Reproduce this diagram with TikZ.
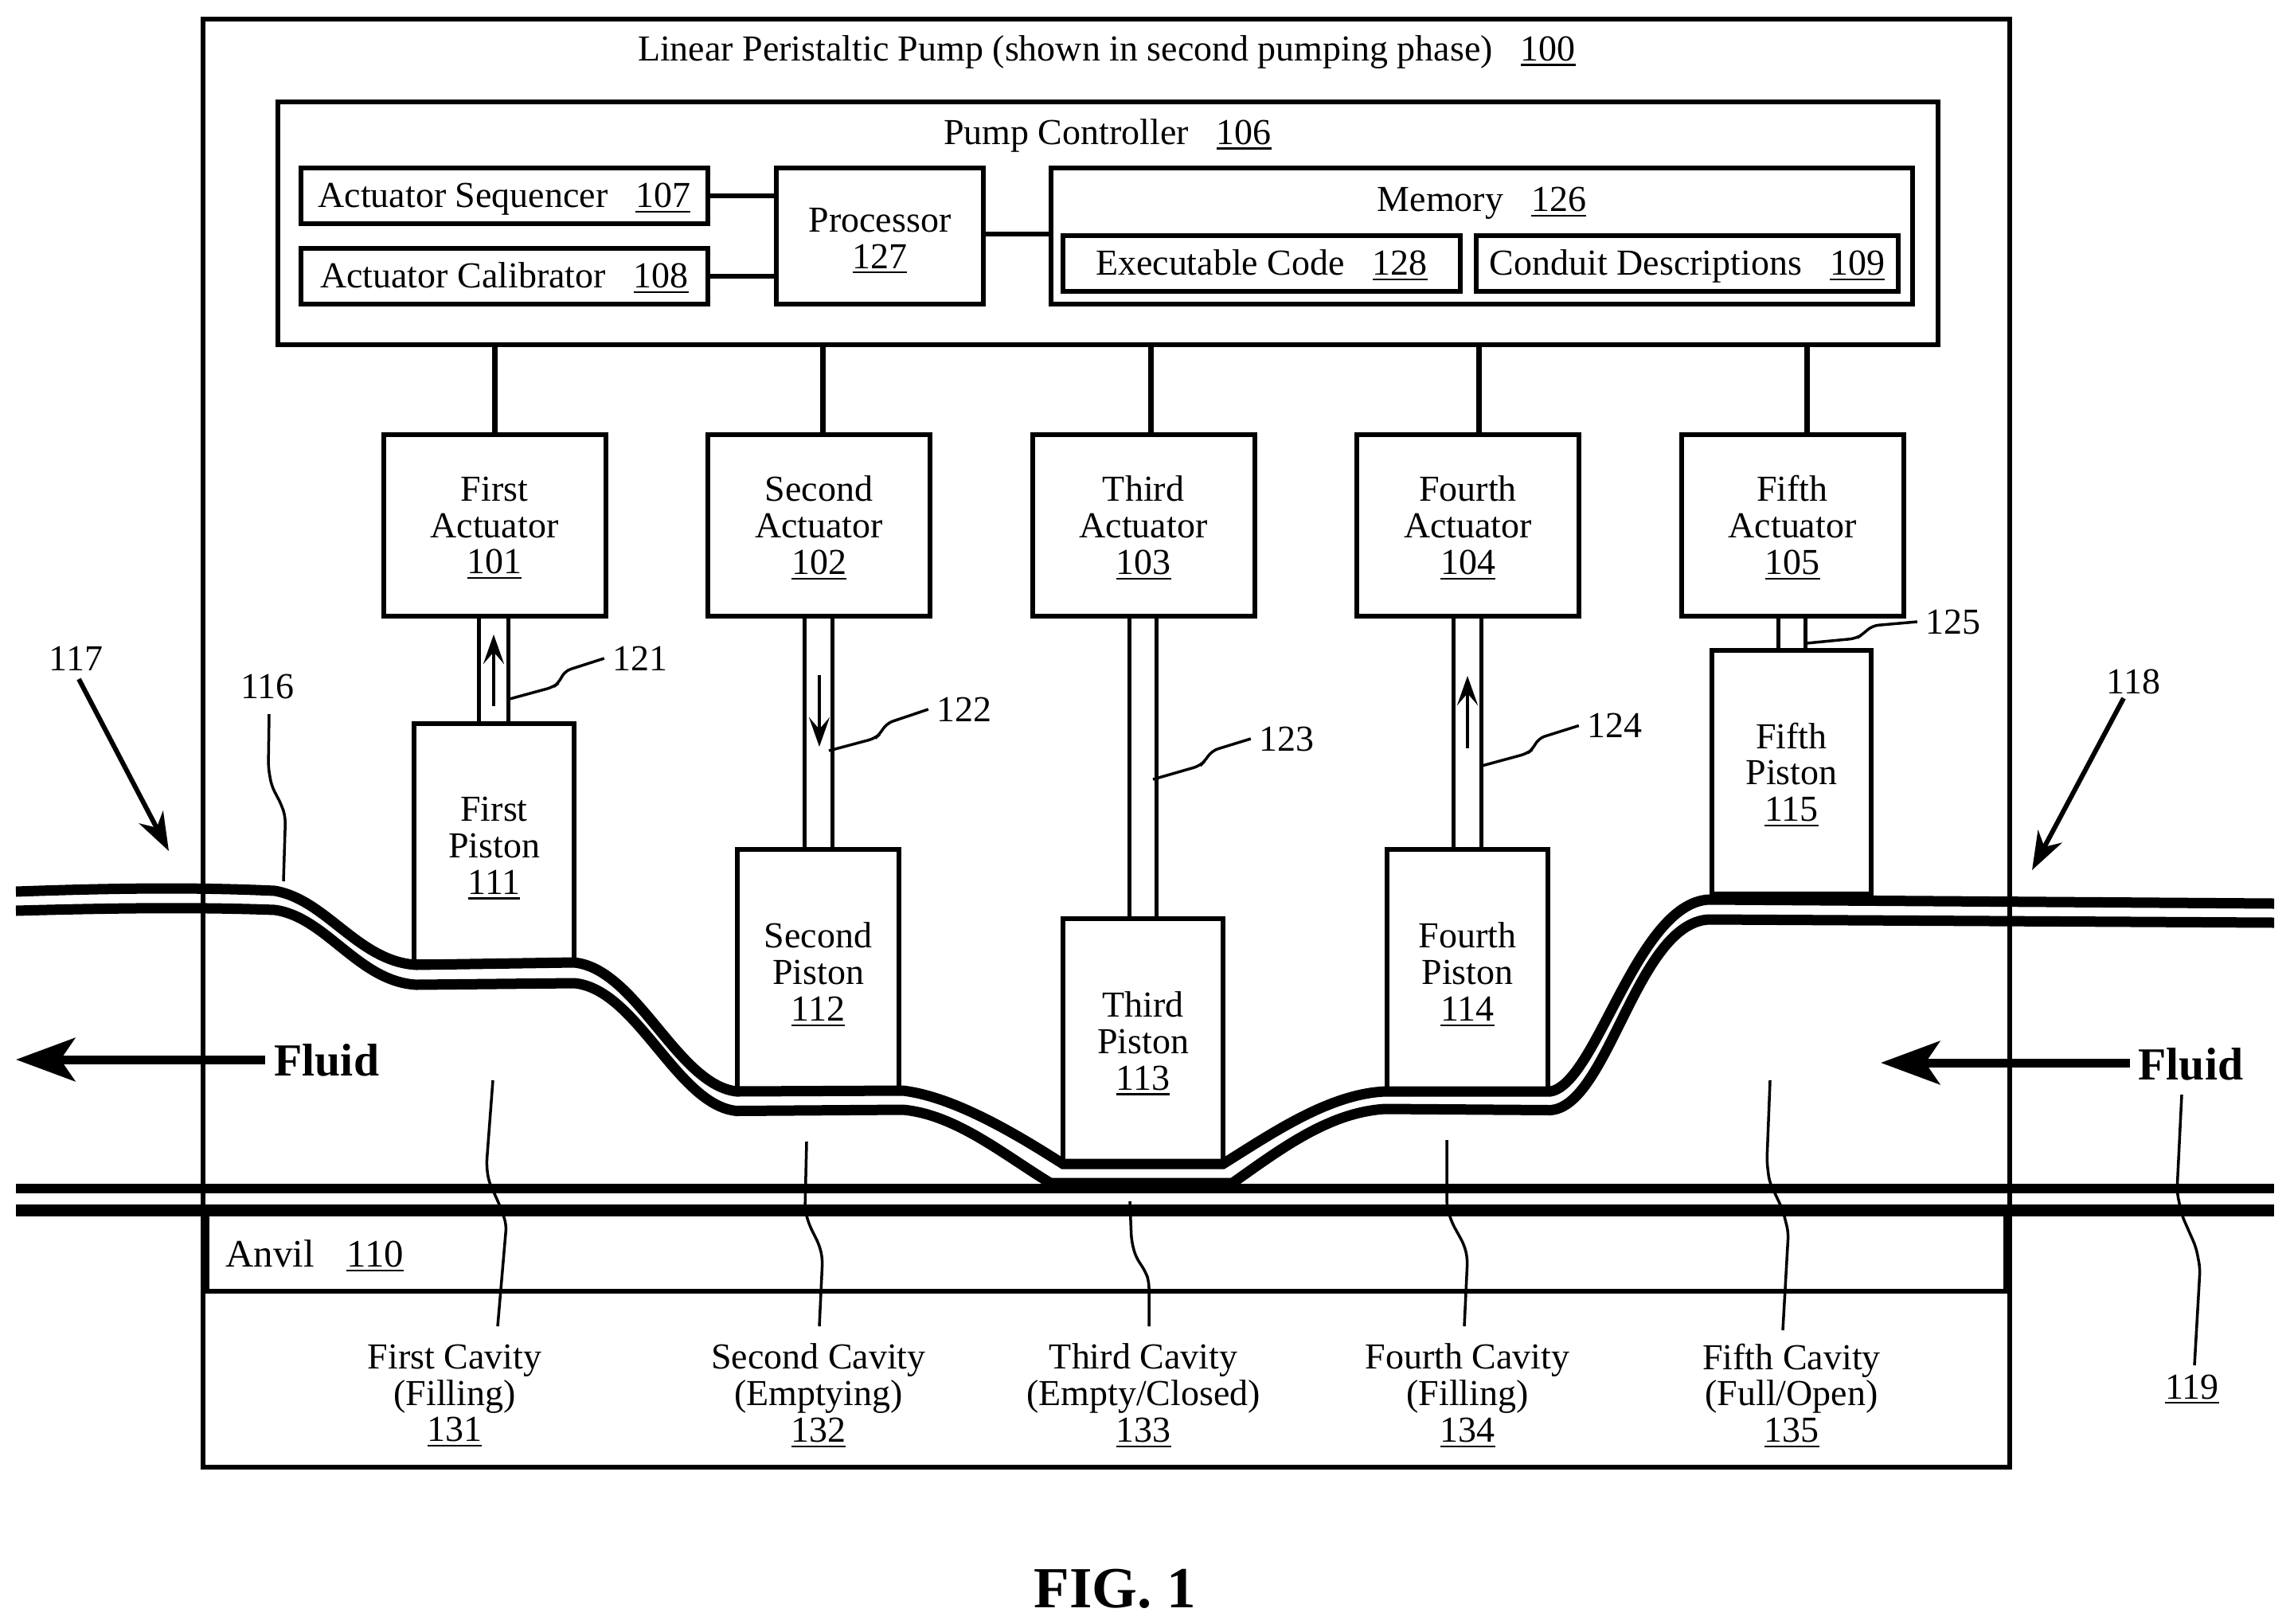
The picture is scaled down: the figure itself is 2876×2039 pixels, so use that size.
\documentclass[tikz,border=0pt]{standalone}
\usepackage{fontspec}
\setmainfont{Liberation Serif}
\usetikzlibrary{arrows.meta}
\newcommand{\nm}[1]{\leavevmode\setbox0\hbox{#1}\rlap{\smash{\rule[-1.8pt]{\wd0}{0.65pt}}}\box0 }
\newcommand{\gp}{\hspace{10pt}}
\tikzset{
  x=0.1mm,y=-0.1mm,
  txt/.style={font=\fontsize{13.08}{13.08}\selectfont,align=center,inner sep=0pt},
  one/.style={text height=8.4pt,text depth=0pt},
  lbl/.style={txt,inner sep=1mm},
  box/.style={draw,line width=.6mm,txt,anchor=center},
  pbox/.style={draw,line width=.55mm,txt,anchor=center,fill=white},
  wire/.style={line width=.7mm},
  link/.style={line width=.6mm},
  rod/.style={line width=.5mm},
  tube/.style={line width=1.3mm},
  anvilline/.style={line width=1.15mm},
  leader/.style={line width=.35mm,rounded corners=.8mm},
  motion/.style={line width=.45mm,-{Stealth[length=3.7mm,width=2.6mm,inset=1.5mm]}},
  refarrow/.style={line width=.6mm,-{Stealth[length=4.8mm,width=3.4mm,inset=1.5mm]}},
  flow/.style={line width=1.1mm,-{Stealth[length=7.4mm,width=5.4mm,inset=1.8mm]}},
  bold/.style={font=\fontsize{16.4}{16.4}\selectfont\bfseries,inner sep=0pt},
}
\begin{document}
\begin{tikzpicture}
\useasboundingbox (0,0) rectangle (2876,2039);
% anvil lines
\draw[anvilline] (20,1493) -- (2856,1493);
\draw[line width=1.5mm] (20,1520) -- (2856,1520);
% outer
\node[box,line width=.65mm,minimum width=2269*0.1mm,minimum height=1819*0.1mm] (pump) at (1389.5,933.5) {};
\node[txt,one] (pumpt) at (1390,61.5) {Linear Peristaltic Pump (shown in second pumping phase)\gp\nm{100}};
\node[box,line width=.65mm,minimum width=2085*0.1mm,minimum height=305*0.1mm] (ctrl) at (1391.5,280.5) {};
\node[txt,one] (ctrlt) at (1391,166.5) {Pump Controller\gp\nm{106}};
% controller inner
\node[box,one,minimum width=511*0.1mm,minimum height=70*0.1mm] (seq) at (633.5,246) {Actuator Sequencer\gp\nm{107}};
\node[box,one,minimum width=511*0.1mm,minimum height=70*0.1mm] (cal) at (633.5,347) {Actuator Calibrator\gp\nm{108}};
\node[box,minimum width=260*0.1mm,minimum height=171*0.1mm] (proc) at (1105,296.5) {\rule{0pt}{10pt}Processor\\\nm{127}};
\node[box,minimum width=1082*0.1mm,minimum height=171*0.1mm] (mem) at (1861,296.5) {};
\node[txt,one] (memt) at (1861,251) {Memory\gp\nm{126}};
\node[box,one,minimum width=499*0.1mm,minimum height=70*0.1mm] (code) at (1584.5,331) {Executable Code\gp\nm{128}};
\node[box,one,minimum width=530*0.1mm,minimum height=70*0.1mm] (cond) at (2119,331) {Conduit Descriptions\gp\nm{109}};
\draw[link] (seq.east) -- (proc.west |- seq.east);
\draw[link] (cal.east) -- (proc.west |- cal.east);
\coordinate (pm) at (1280,294);
\draw[link] (proc.east |- pm) -- (mem.west |- pm);
% actuators
\node[box,minimum width=279*0.1mm,minimum height=228*0.1mm] (a1) at (621,660) {First\\Actuator\\\nm{101}};
\node[box,minimum width=279*0.1mm,minimum height=228*0.1mm] (a2) at (1028.5,660) {Second\\Actuator\\\nm{102}};
\node[box,minimum width=279*0.1mm,minimum height=228*0.1mm] (a3) at (1436,660) {Third\\Actuator\\\nm{103}};
\node[box,minimum width=279*0.1mm,minimum height=228*0.1mm] (a4) at (1843.5,660) {Fourth\\Actuator\\\nm{104}};
\node[box,minimum width=279*0.1mm,minimum height=228*0.1mm] (a5) at (2251,660) {Fifth\\Actuator\\\nm{105}};
\foreach \x/\a in {621/a1,1033/a2,1445.5/a3,1857/a4,2269/a5}{
  \coordinate (w) at (\x,500);
  \draw[wire] (ctrl.south -| w) -- (\a.north -| w);
}
% pistons
\node[pbox,minimum width=201*0.1mm,minimum height=299*0.1mm] (p1) at (620.5,1058.5) {};
\node[txt] (p1t) at (620.5,1062) {First\\Piston\\\nm{111}};
\node[pbox,minimum width=203*0.1mm,minimum height=301*0.1mm] (p2) at (1027.5,1217.5) {};
\node[txt] (p2t) at (1027.5,1221) {Second\\Piston\\\nm{112}};
\node[pbox,minimum width=201*0.1mm,minimum height=306*0.1mm] (p3) at (1435.5,1307) {};
\node[txt] (p3t) at (1435.5,1307.5) {Third\\Piston\\\nm{113}};
\node[pbox,minimum width=202*0.1mm,minimum height=301*0.1mm] (p4) at (1843,1217.5) {};
\node[txt] (p4t) at (1843,1221) {Fourth\\Piston\\\nm{114}};
\node[pbox,minimum width=200*0.1mm,minimum height=306*0.1mm] (p5) at (2250,970) {};
\node[txt] (p5t) at (2250,970) {Fifth\\Piston\\\nm{115}};
% tube
\draw[tube] (20,1120) .. controls (130,1116) and (240,1114) .. (345,1119)
  .. controls (410,1130) and (450,1208) .. (523,1212) -- (721,1209)
  .. controls (800,1217) and (850,1362) .. (925,1371) -- (1134,1370)
  .. controls (1200,1378) and (1280,1427) .. (1335,1462) -- (1536,1462)
  .. controls (1600,1422) and (1670,1374) .. (1740,1371) -- (1947,1371)
  .. controls (2005,1362) and (2055,1135) .. (2146,1130) -- (2856,1135);
\draw[tube] (20,1144) .. controls (130,1141) and (240,1139) .. (345,1143)
  .. controls (410,1152) and (450,1233) .. (523,1237) -- (721,1235)
  .. controls (800,1242) and (850,1388) .. (925,1395.5) -- (1134,1394)
  .. controls (1200,1400) and (1260,1450) .. (1319,1486) -- (1548,1486)
  .. controls (1610,1442) and (1670,1397) .. (1740,1393) -- (1947,1394.5)
  .. controls (2020,1390) and (2055,1160) .. (2146,1155) -- (2856,1159);
% rods
\foreach \l/\r/\a/\p in {601/638/a1/p1,1010/1045/a2/p2,1418/1452/a3/p3,1825/1860/a4/p4,2233/2267/a5/p5}{
  \coordinate (rl) at (\l,800); \coordinate (rr) at (\r,800);
  \draw[rod] (\a.south -| rl) -- (\p.north -| rl);
  \draw[rod] (\a.south -| rr) -- (\p.north -| rr);
}
% motion arrows
\coordinate (m1a) at (620,887); \coordinate (m1b) at (620,797);
\coordinate (m2a) at (1029,848); \coordinate (m2b) at (1029,938);
\coordinate (m4a) at (1843,940); \coordinate (m4b) at (1843,849);
\draw[motion] (m1a) -- (m1b);
\draw[motion] (m2a) -- (m2b);
\draw[motion] (m4a) -- (m4b);
% anvil
\node[box,minimum width=2259*0.1mm,minimum height=101*0.1mm] (anvil) at (1389.5,1571) {};
\node[txt,anchor=base west,font=\fontsize{13.9}{13.9}\selectfont] (anvilt) at (283,1591) {Anvil\hspace{11.5pt}\nm{110}};
% cavity labels
\node[txt] (c1) at (571,1750) {First Cavity\\(Filling)\\\nm{131}};
\node[txt] (c2) at (1028,1750) {Second Cavity\\(Emptying)\\\nm{132}};
\node[txt] (c3) at (1436,1750) {Third Cavity\\(Empty/Closed)\\\nm{133}};
\node[txt] (c4) at (1843,1750) {Fourth Cavity\\(Filling)\\\nm{134}};
\node[txt] (c5) at (2250,1750) {Fifth Cavity\\(Full/Open)\\\nm{135}};
\node[lbl] (n119) at (2753,1742) {\nm{119}};
% number labels
\node[lbl] (n117) at (95.5,827) {117};
\node[lbl] (n116) at (336,862) {116};
\node[lbl] (n121) at (804,827) {121};
\node[lbl] (n122) at (1211,891) {122};
\node[lbl] (n123) at (1616,928) {123};
\node[lbl] (n124) at (2028,911.5) {124};
\node[lbl] (n125) at (2453,781) {125};
\node[lbl] (n118) at (2679.5,856.5) {118};
% leaders
\coordinate (t116) at (356,1107);
\draw[leader] (338,897) -- (337,964) -- (341,987) -- (354,1012) -- (358.5,1027) -- (t116);
\coordinate (t121) at (640,878);
\draw[leader] (t121) -- (695,863) -- (702,857.5) -- (709,843) -- (n121.west);
\coordinate (t122) at (1041,943);
\draw[leader] (t122) -- (1099,927.5) -- (1105,922) -- (1113.5,908.6) -- (n122.west);
\coordinate (t123) at (1448,979);
\draw[leader] (t123) -- (1507,962) -- (1513,956) -- (1522,943) -- (n123.west);
\coordinate (t124) at (1861,962);
\draw[leader] (t124) -- (1918,946.5) -- (1925,941) -- (1932,927.5) -- (n124.west);
\coordinate (t125) at (2268.5,808);
\draw[leader] (t125) -- (2331,802) -- (2339,797) -- (2351,786) -- (n125.west);
\coordinate (s1) at (619,1357); \coordinate (e1) at (625,1666);
\draw[leader] (s1) -- (611,1463) -- (613.5,1483) -- (628,1515) -- (636,1538) -- (e1);
\coordinate (s2) at (1013,1434); \coordinate (e2) at (1029,1666);
\draw[leader] (s2) -- (1011,1520) -- (1016,1538) -- (1029,1564) -- (1033,1581) -- (e2);
\coordinate (s3) at (1419,1509); \coordinate (e3) at (1443,1666);
\draw[leader] (s3) -- (1421,1558) -- (1426,1578) -- (1439,1598) -- (1443,1610) -- (e3);
\coordinate (s4) at (1817,1432); \coordinate (e4) at (1839,1666);
\draw[leader] (s4) -- (1817,1515) -- (1823,1535) -- (1839,1564) -- (1843,1581) -- (e4);
\coordinate (s5) at (2223,1357); \coordinate (e5) at (2239,1671);
\draw[leader] (s5) -- (2219,1459) -- (2222,1484) -- (2239,1520) -- (2246,1548) -- (e5);
\coordinate (s9) at (2740,1375); \coordinate (e9) at (2756,1715);
\draw[leader] (s9) -- (2734,1497) -- (2740,1526) -- (2758,1567) -- (2763,1593) -- (e9);
% ref arrows
\coordinate (r117a) at (99,853); \coordinate (r117b) at (212,1069);
\coordinate (r118a) at (2667,877); \coordinate (r118b) at (2552,1093);
\draw[refarrow] (r117a) -- (r117b);
\draw[refarrow] (r118a) -- (r118b);
% fluid
\node[bold,anchor=base west] (fl) at (344,1351) {Fluid};
\node[bold,anchor=base west] (fr) at (2685,1356) {Fluid};
\coordinate (fle) at (20,1331);
\coordinate (fre) at (2362,1335);
\draw[flow] (333,1331) -- (fle);
\draw[flow] (2675,1335) -- (fre);
% fig
\node[font=\fontsize{20.8}{20.8}\selectfont\bfseries,inner sep=0pt] (fig) at (1400,1996) {FIG. 1};
\end{tikzpicture}
\end{document}
